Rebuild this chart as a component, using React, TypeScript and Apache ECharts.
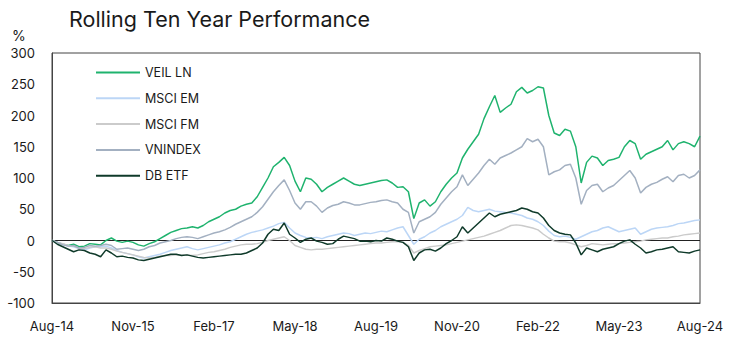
import React, { useEffect, useRef } from "react";
import * as echarts from "echarts";

const MONTH_NAMES = ["Jan", "Feb", "Mar", "Apr", "May", "Jun", "Jul", "Aug", "Sep", "Oct", "Nov", "Dec"];
const START_YEAR = 2014;
const START_MONTH = 7; // Aug
const N_MONTHS = 121;

const categories: string[] = [];
for (let i = 0; i < N_MONTHS; i++) {
  const mi = START_MONTH + i;
  const y = START_YEAR + Math.floor(mi / 12);
  categories.push(`${MONTH_NAMES[mi % 12]}-${String(y % 100).padStart(2, "0")}`);
}

const Y_TICKS = [-100, -50, 0, 50, 100, 150, 200, 250, 300];

const VEIL_LN = [
  0, -3, -6, -8, -6, -10, -9, -5, -6, -7,
  0, 4, -1, -3, -1, -3, -7, -9, -5, -2,
  3, 8, 13, 16, 19, 20, 22, 20, 24, 30,
  34, 38, 44, 48, 50, 55, 58, 60, 70, 85,
  100, 118, 125, 133, 120, 95, 78, 100, 98, 90,
  78, 85, 90, 95, 100, 95, 90, 88, 90, 92,
  94, 96, 97, 92, 85, 86, 78, 35, 60, 65,
  55, 62, 78, 90, 100, 108, 132, 146, 158, 170,
  195, 214, 232, 205, 212, 218, 238, 245, 236, 240,
  246, 244, 200, 172, 168, 178, 175, 150, 92, 125,
  135, 132, 120, 128, 130, 133, 150, 160, 155, 130,
  138, 142, 146, 150, 160, 145, 155, 158, 155, 150,
  167,
];

const MSCI_EM = [
  0, -3, -6, -9, -10, -13, -15, -12, -10, -10,
  -9, -12, -16, -19, -21, -23, -26, -28, -26, -24,
  -22, -19, -16, -14, -12, -10, -13, -15, -13, -11,
  -9, -7, -4, -2, 2, 6, 10, 13, 15, 17,
  20, 23, 27, 29, 20, 12, 8, 5, 4, 5,
  3, 6, 8, 10, 12, 11, 8, 10, 12, 11,
  13, 15, 14, 17, 20, 22, 8, -6, 2, 6,
  12, 16, 22, 26, 30, 34, 40, 53, 48, 46,
  48, 50, 47, 46, 45, 44, 42, 40, 36, 34,
  30, 24, 15, 8, 6, 7, 5, 2, 6, 10,
  14, 16, 20, 22, 18, 14, 16, 18, 20, 10,
  14, 18, 20, 21, 22, 24, 27, 28, 30, 32,
  33,
];

const MSCI_FM = [
  0, -3, -5, -8, -9, -12, -13, -11, -10, -12,
  -12, -14, -17, -19, -21, -23, -25, -27, -28, -27,
  -25, -24, -24, -23, -23, -23, -24, -23, -21, -19,
  -18, -16, -14, -11, -9, -7, -6, -6, -5, -3,
  0, 2, 4, 6, 0, -8, -11, -14, -15, -14,
  -14, -13, -12, -11, -10, -9, -8, -7, -6, -5,
  -4, -4, -3, -2, -2, -3, -8, -20, -16, -13,
  -10, -9, -8, -7, -5, -3, -1, 1, 3, 5,
  7, 10, 13, 16, 20, 24, 25, 24, 22, 20,
  17, 10, 4, -1, -2, -2, -4, -7, -10, -8,
  -5, -6, -7, -6, -5, -5, -4, -3, -2, -1,
  1, 2, 3, 4, 4, 6, 7, 9, 10, 11,
  12,
];

const VNINDEX = [
  0, -3, -7, -9, -8, -12, -11, -8, -9, -8,
  -6, -8, -14, -13, -12, -14, -16, -14, -10, -8,
  -4, -2, 0, 3, 5, 6, 5, 3, 6, 9,
  12, 14, 17, 21, 26, 30, 34, 38, 45, 54,
  66, 78, 88, 97, 80, 60, 50, 62, 62, 55,
  45, 52, 56, 58, 62, 60, 57, 57, 59, 61,
  62, 64, 65, 62, 60, 50, 45, 12, 30, 34,
  38, 45, 58, 68, 78, 86, 105, 88, 98, 108,
  120, 130, 122, 132, 136, 140, 145, 150, 163, 158,
  162, 150, 105, 110, 113, 120, 122, 100, 58, 80,
  88, 90, 78, 84, 88, 96, 104, 112, 100, 76,
  85, 90, 93, 98, 102, 94, 104, 106, 100, 104,
  113,
];

const DB_ETF = [
  0, -6, -10, -14, -18, -15, -16, -20, -22, -26,
  -15, -20, -26, -25, -27, -28, -31, -32, -30, -28,
  -26, -24, -22, -22, -24, -23, -25, -27, -28, -27,
  -26, -25, -24, -23, -22, -22, -20, -16, -12, -4,
  10, 18, 16, 28, 10, 4, -3, 2, 4, -1,
  -3, -6, -5, 2, 7, 5, 3, -1, -1, -2,
  0, -1, 4, 2, -1, -3, -10, -32, -20, -15,
  -14, -17, -12, -5, 0, 6, 22, 12, 20, 28,
  36, 44, 38, 42, 44, 46, 48, 52, 50, 46,
  44, 36, 24, 16, 12, 10, 9, -4, -23, -12,
  -15, -18, -14, -12, -10, -5, -1, 1, -6, -12,
  -20, -18, -15, -14, -12, -10, -18, -19, -20, -17,
  -15,
];

const SERIES = [
  { name: "VEIL LN", data: VEIL_LN, color: "#1fb36e" },
  { name: "MSCI EM", data: MSCI_EM, color: "#bcd6f6" },
  { name: "MSCI FM", data: MSCI_FM, color: "#cbcbcb" },
  { name: "VNINDEX", data: VNINDEX, color: "#a3b0c1" },
  { name: "DB ETF", data: DB_ETF, color: "#0f3a2a" },
];

const FONT = "Inter, 'Noto Sans', sans-serif";

export default function App() {
  const ref = useRef<HTMLDivElement>(null);
  useEffect(() => {
    document.body.style.margin = "0";
    if (!ref.current) return;
    const chart = echarts.init(ref.current, undefined, { renderer: "svg" });
    chart.setOption({
      animation: false,
      backgroundColor: "#ffffff",
      textStyle: { fontFamily: FONT },
      title: {
        text: "Rolling Ten Year Performance",
        left: 64,
        top: 3,
        textStyle: { fontFamily: FONT, fontSize: 21.5, fontWeight: "normal", color: "#1a1a1a" },
      },
      graphic: [
        {
          type: "text",
          left: 12,
          top: 28,
          style: { text: "%", fontFamily: FONT, fontSize: 14, fill: "#1a1a1a" },
        },
      ],
      legend: {
        orient: "vertical",
        left: 91,
        top: 61,
        itemWidth: 44,
        itemHeight: 14,
        itemGap: 12.8,
        icon: "path://M0,6 L44,6 L44,8 L0,8 Z",
        textStyle: { fontFamily: FONT, fontSize: 12.5, color: "#1a1a1a", padding: [0, 0, 0, 0] },
        data: SERIES.map((s) => s.name),
      },
      grid: {
        left: 52,
        right: 35,
        top: 53,
        bottom: 50,
        show: true,
        borderColor: "#444",
        borderWidth: 1,
        containLabel: false,
      },
      xAxis: {
        type: "category",
        data: categories,
        boundaryGap: false,
        axisLine: { onZero: false, lineStyle: { color: "#444", width: 1 } },
        axisTick: { show: false },
        splitLine: { show: false },
        axisLabel: {
          interval: 14,
          margin: 16,
          fontFamily: FONT,
          fontSize: 13,
          color: "#1a1a1a",
          showMaxLabel: true,
        },
      },
      yAxis: {
        type: "value",
        min: Y_TICKS[0],
        max: Y_TICKS[Y_TICKS.length - 1],
        interval: 50,
        axisLine: { show: true, lineStyle: { color: "#444", width: 1 } },
        axisTick: { show: false },
        splitLine: { show: false },
        axisLabel: { margin: 17, fontFamily: FONT, fontSize: 13, color: "#1a1a1a" },
      },
      series: SERIES.map((s, i) => ({
        name: s.name,
        type: "line",
        data: s.data,
        symbol: "none",
        color: s.color,
        lineStyle: { color: s.color, width: 1.5 },
        z: 2 + i,
        markLine:
          i === 0
            ? {
                silent: true,
                symbol: "none",
                label: { show: false },
                lineStyle: { color: "#222", width: 1, type: "solid" },
                data: [{ yAxis: 0 }],
                z: 1,
              }
            : undefined,
      })),
    });
    return () => chart.dispose();
  }, []);
  return <div ref={ref} style={{ width: 735, height: 353 }} />;
}
